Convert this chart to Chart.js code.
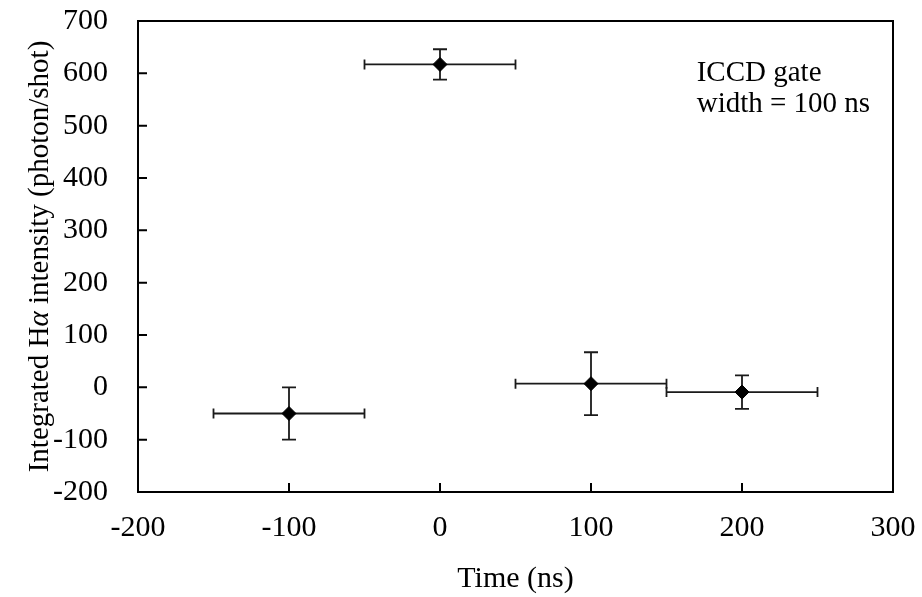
<!DOCTYPE html>
<html>
<head>
<meta charset="utf-8">
<script src="https://cdn.jsdelivr.net/npm/chart.js@4.4.1/dist/chart.umd.min.js"></script>
<style>
  html, body { margin: 0; padding: 0; background: #fff; }
  #wrap { width: 922px; height: 597px; }
</style>
</head>
<body>
<div id="wrap"><canvas id="hAlphaChart"></canvas></div>
<script>
// gate delay (ns) and integrated H-alpha intensity
var timeNs = [-100, 0, 100, 200];
var timeErr = [50, 50, 50, 50];
var intensity = [-50, 617, 7, -9];
var intensityErr = [50, 29, 60, 32];

var xTicks = [-200, -100, 0, 100, 200, 300];
var yTicks = [-200, -100, 0, 100, 200, 300, 400, 500, 600, 700];

var noteLines = ["ICCD gate", "width = 100 ns"];
// y title in pieces so the alpha can be italic
var yTitleParts = [["Integrated H", false], ["\u03b1", true], [" intensity (photon/shot)", false]];

var serif = "'Liberation Serif', 'Times New Roman', serif";
var ink = "#1a1a1a";

var points = timeNs.map(function(t, i) {
    return { x: t, y: intensity[i] };
});

// error bars, frame, inward ticks, y title and the note
var extrasPlugin = {
    id: "extras",
    beforeDatasetsDraw: function(chart) {
        var ctx = chart.ctx;
        var xs = chart.scales.x, ys = chart.scales.y;
        ctx.save();
        ctx.strokeStyle = ink;
        ctx.lineWidth = 1.8;
        timeNs.forEach(function(t, i) {
            var px = xs.getPixelForValue(t);
            var py = ys.getPixelForValue(intensity[i]);
            var x0 = xs.getPixelForValue(t - timeErr[i]);
            var x1 = xs.getPixelForValue(t + timeErr[i]);
            var y0 = ys.getPixelForValue(intensity[i] - intensityErr[i]);
            var y1 = ys.getPixelForValue(intensity[i] + intensityErr[i]);
            ctx.beginPath();
            ctx.moveTo(x0, py); ctx.lineTo(x1, py);
            ctx.moveTo(x0, py - 5); ctx.lineTo(x0, py + 5);
            ctx.moveTo(x1, py - 5); ctx.lineTo(x1, py + 5);
            ctx.moveTo(px, y0); ctx.lineTo(px, y1);
            ctx.moveTo(px - 7, y0); ctx.lineTo(px + 7, y0);
            ctx.moveTo(px - 7, y1); ctx.lineTo(px + 7, y1);
            ctx.stroke();
        });
        ctx.restore();
    },
    afterDraw: function(chart) {
        var ctx = chart.ctx;
        var a = chart.chartArea;
        var xs = chart.scales.x, ys = chart.scales.y;
        ctx.save();
        ctx.strokeStyle = "#000";
        ctx.lineWidth = 2;
        ctx.strokeRect(a.left, a.top, a.right - a.left, a.bottom - a.top);
        ctx.beginPath();
        xTicks.forEach(function(v) {
            var px = xs.getPixelForValue(v);
            ctx.moveTo(px, a.bottom); ctx.lineTo(px, a.bottom - 9);
        });
        yTicks.forEach(function(v) {
            var py = ys.getPixelForValue(v);
            ctx.moveTo(a.left, py); ctx.lineTo(a.left + 9, py);
        });
        ctx.stroke();

        ctx.fillStyle = "#000";
        ctx.font = "29px " + serif;
        ctx.textBaseline = "middle";
        ctx.textAlign = "left";
        var nx = xs.getPixelForValue(170);
        ctx.fillText(noteLines[0], nx, ys.getPixelForValue(599));
        ctx.fillText(noteLines[1], nx, ys.getPixelForValue(541));

        // rotated y title
        var total = 0;
        yTitleParts.forEach(function(p) {
            ctx.font = (p[1] ? "italic " : "") + "29px " + serif;
            total += ctx.measureText(p[0]).width;
        });
        ctx.translate(40, (a.top + a.bottom) / 2);
        ctx.rotate(-Math.PI / 2);
        var cx = -total / 2;
        yTitleParts.forEach(function(p) {
            ctx.font = (p[1] ? "italic " : "") + "29px " + serif;
            ctx.fillText(p[0], cx, 0);
            cx += ctx.measureText(p[0]).width;
        });
        ctx.restore();
    }
};

new Chart(document.getElementById("hAlphaChart"), {
    type: "scatter",
    data: {
        datasets: [
            {
                label: "H alpha",
                data: points,
                pointStyle: "rectRot",
                pointRadius: 7,
                pointHoverRadius: 7,
                backgroundColor: "#000",
                borderColor: "#000",
                borderWidth: 1,
            },
        ],
    },
    options: {
        responsive: true,
        maintainAspectRatio: false,
        animation: false,
        layout: { padding: { top: 21, right: 29, left: 0, bottom: 0 } },
        plugins: {
            legend: { display: false },
            tooltip: { enabled: false },
        },
        scales: {
            x: {
                type: "linear",
                min: -200,
                max: 300,
                afterBuildTicks: function(s) {
                    s.ticks = xTicks.map(function(v) { return { value: v }; });
                },
                afterFit: function(s) {
                    s.height = 105;
                    s.paddingLeft = 0;
                    s.paddingRight = 0;
                },
                grid: { display: false, drawTicks: false },
                border: { display: false },
                ticks: {
                    color: "#000",
                    padding: 18,
                    font: { family: serif, size: 30 },
                },
                title: {
                    display: true,
                    text: "Time (ns)",
                    color: "#000",
                    padding: { top: 1, bottom: 0 },
                    font: { family: serif, size: 30 },
                },
            },
            y: {
                type: "linear",
                min: -200,
                max: 700,
                afterBuildTicks: function(s) {
                    s.ticks = yTicks.map(function(v) { return { value: v }; });
                },
                afterFit: function(s) {
                    s.width = 138;
                    s.paddingTop = 0;
                    s.paddingBottom = 0;
                },
                grid: { display: false, drawTicks: false },
                border: { display: false },
                ticks: {
                    color: "#000",
                    padding: 30,
                    font: { family: serif, size: 30 },
                },
                title: { display: false },
            },
        },
    },
    plugins: [extrasPlugin],
});
</script>
</body>
</html>
